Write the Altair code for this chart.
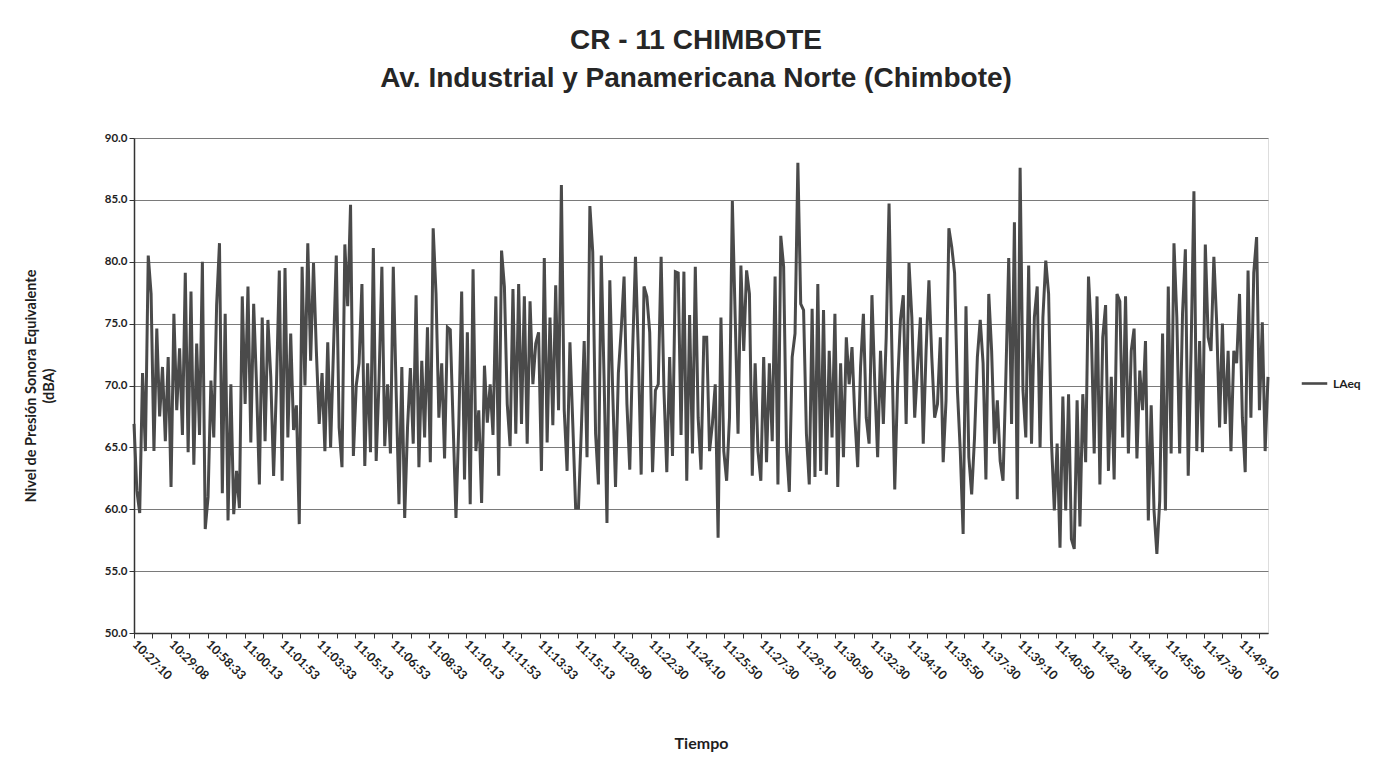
import json
import altair as alt
import pandas as pd

# ---------------- data (LAeq values, left to right) ----------------
SEG_1 = [66.9, 61.5, 59.7, 71.0, 64.7, 80.5, 77.4, 64.7, 74.6, 67.5, 71.5, 65.5, 72.3, 61.8, 75.8, 68.0,
         73.0, 66.0, 79.1, 64.6, 77.6, 63.6, 73.4, 66.0, 80.0, 58.4, 61.0, 70.4, 65.8, 76.5, 81.5, 61.3,
         75.8, 59.1, 70.1, 59.6, 63.1, 60.1, 77.2, 68.5, 78.0, 65.4, 76.6, 70.1, 62.0, 75.5, 65.5, 75.3]
SEG_2 = [70.7, 62.7, 70.0, 79.3, 62.3, 79.5, 65.8, 74.2, 66.4, 68.4, 58.8, 79.6, 70.0, 81.5, 72.0, 79.9,
         72.8, 66.9, 71.0, 64.7, 73.5, 65.0, 72.8, 80.5, 66.6, 63.4, 81.4, 76.4, 84.6, 64.3, 70.0, 71.8,
         78.2, 63.5, 71.8, 64.6, 81.1, 63.9, 70.4, 79.6, 65.1, 70.1, 64.5, 79.6, 69.6, 60.4, 71.5, 59.3,
         66.6, 71.4, 65.3]
SEG_3 = [77.3, 63.4, 72.0, 65.8, 74.7, 63.8, 82.7, 77.4, 67.4, 71.8, 64.1, 74.7, 74.5, 66.9, 59.3, 66.9,
         77.6, 62.4, 74.3, 60.4, 79.4, 64.7, 68.0, 60.5, 71.6, 67.0, 70.1, 66.0, 77.2, 62.7, 80.9, 78.0,
         68.5, 65.1, 77.8, 66.1, 78.2, 66.9, 77.2, 65.3, 76.8, 70.1, 73.4, 74.3, 63.1, 80.3, 65.4, 75.5,
         66.8, 78.1, 68.0]
SEG_4 = [86.2, 68.0, 63.1, 73.5, 66.9, 60.1, 60.1, 66.4, 73.6, 64.2, 84.5, 80.8, 66.1, 62.0, 80.5, 70.4,
         58.9, 78.5, 69.6, 61.8, 71.0, 74.5, 78.8, 68.5, 63.2, 72.8, 80.4, 72.8, 62.8, 78.0, 77.2, 74.3,
         63.0, 69.6, 70.1, 80.4, 69.6, 63.0, 72.3, 64.3, 79.2, 79.1, 66.0, 79.2, 62.3, 75.7, 64.5, 79.6,
         67.4, 63.2, 73.9]
SEG_5 = [73.9, 64.7, 66.9, 70.1, 57.7, 75.5, 64.7, 62.3, 67.4, 84.9, 75.5, 66.1, 79.7, 72.8, 79.3, 77.4,
         62.7, 71.8, 64.7, 62.3, 72.3, 63.8, 71.8, 65.5, 78.8, 62.0, 82.1, 79.6, 65.0, 61.4, 72.3, 74.2,
         88.0, 76.6, 76.1, 66.1, 62.0, 76.2, 62.6, 78.2, 63.1, 76.1, 62.8, 72.8, 65.8, 75.8, 61.8, 71.8,
         64.2, 73.9, 70.1]
SEG_6 = [73.1, 67.4, 63.4, 71.5, 75.8, 67.4, 65.3, 77.3, 70.1, 64.2, 72.8, 66.9, 73.9, 84.7, 72.8, 61.6,
         70.1, 75.3, 77.3, 66.9, 79.9, 75.5, 67.4, 71.5, 75.5, 65.3, 72.8, 78.5, 72.3, 67.4, 68.5, 73.9,
         63.8, 68.8, 82.7, 81.2, 79.1, 69.6, 64.7, 58.0, 76.4, 64.2, 61.2, 65.8, 72.3, 75.3, 71.8, 62.4,
         77.4, 72.8, 65.3]
SEG_7 = [68.8, 63.9, 62.3, 70.7, 80.3, 66.9, 83.2, 60.8, 87.6, 69.6, 65.8, 79.7, 65.3, 75.5, 78.0, 65.0,
         75.5, 80.1, 77.4, 65.5, 59.9, 65.3, 56.9, 69.1, 59.9, 69.3, 57.6, 56.8, 68.8, 58.6, 69.3, 63.8,
         78.8, 74.3, 64.5, 77.2, 62.0, 73.9, 76.5, 63.1, 70.7, 62.4, 77.4, 76.8, 65.8, 77.2, 64.5, 72.8,
         74.6, 64.1, 71.2]
SEG_8 = [68.0, 73.6, 59.1, 68.4, 59.9, 56.4, 60.7, 74.2, 59.9, 78.0, 64.5, 81.5, 75.5, 64.5, 75.8, 81.0,
         62.7, 72.8, 85.7, 64.7, 73.6, 64.6, 81.4, 73.9, 72.8, 80.4, 75.0, 66.6, 75.0, 66.9, 72.8, 64.7,
         72.8, 71.8, 77.4, 67.4, 63.0, 79.3, 67.4, 79.1, 82.0, 68.0, 75.1, 64.7, 70.7]

TICK_LABELS = ["10:27:10", "10:29:08", "10:58:33", "11:00:13", "11:01:53", "11:03:33", "11:05:13",
               "11:06:53", "11:08:33", "11:10:13", "11:11:53", "11:13:33", "11:15:13", "11:20:50",
               "11:22:30", "11:24:10", "11:25:50", "11:27:30", "11:29:10", "11:30:50", "11:32:30",
               "11:34:10", "11:35:50", "11:37:30", "11:39:10", "11:40:50", "11:42:30", "11:44:10",
               "11:45:50", "11:47:30", "11:49:10"]

SERIES = "LAeq"
TITLE = ["CR - 11 CHIMBOTE", "Av. Industrial y Panamericana Norte (Chimbote)"]
Y_TITLE = ["Nivel de Presión Sonora Equivalente", "(dBA)"]
X_TITLE = "Tiempo"

values = SEG_1 + SEG_2 + SEG_3 + SEG_4 + SEG_5 + SEG_6 + SEG_7 + SEG_8
POINTS_PER_LABEL = 12.95  # readings between two labelled ticks
df = pd.DataFrame({
    "pos": [i / POINTS_PER_LABEL for i in range(len(values))],
    "LAeq": values,
    "serie": SERIES,
})
x_max = (len(values) - 1) / POINTS_PER_LABEL

label_expr = ("datum.value % 1 === 0 ? " + json.dumps(TICK_LABELS) +
              "[round(datum.value)] : ''")

AX_FONT = "Lato"
INK = "#1e1e1e"

chart = alt.Chart(df).mark_line(strokeWidth=3.0, interpolate="linear").encode(
    x=alt.X("pos:Q",
            scale=alt.Scale(domain=[0, x_max], nice=False, zero=False),
            axis=alt.Axis(values=[k * 0.5 for k in range(int(x_max * 2) + 1)],
                          labelExpr=label_expr, labelAngle=45, labelAlign="left",
                          labelBaseline="middle", labelFont=AX_FONT, labelFontWeight="bold",
                          labelFontSize=12.5, labelColor=INK, labelPadding=4,
                          tickSize=5, tickColor="#333", domainColor="#333", domainWidth=1.5,
                          grid=False, labelOverlap=False,
                          title=X_TITLE, titleFont=AX_FONT, titleFontSize=16,
                          titleFontWeight="bold", titleColor=INK, titlePadding=54)),
    y=alt.Y("LAeq:Q",
            scale=alt.Scale(domain=[50, 90], nice=False, zero=False),
            axis=alt.Axis(values=[50, 55, 60, 65, 70, 75, 80, 85, 90], format=".1f",
                          labelFont=AX_FONT, labelFontWeight="bold", labelFontSize=11.5,
                          labelColor=INK, tickSize=5, tickColor="#333",
                          domainColor="#333", domainWidth=1.5,
                          grid=True, gridColor="#7a7a7a", gridWidth=1.2,
                          title=Y_TITLE, titleFont=AX_FONT, titleFontSize=14.5,
                          titleFontWeight="bold", titleColor=INK, titlePadding=48,
                          titleLineHeight=18)),
    color=alt.Color("serie:N", scale=alt.Scale(range=["#4a4a4a"]),
                    legend=alt.Legend(title=None, orient="none", legendX=1166, legendY=231,
                                      symbolType="stroke", symbolSize=650,
                                      symbolStrokeWidth=2.6, labelFont=AX_FONT,
                                      labelFontWeight="bold", labelFontSize=12,
                                      labelColor=INK)),
).properties(
    width=1134,
    height=495,
    autosize=alt.AutoSizeParams(type="none"),
    padding={"left": 126, "top": 130, "right": 97, "bottom": 128},
    title=alt.TitleParams(text=TITLE, font="Liberation Sans Narrow, Liberation Sans, Arial",
                          fontSize=28, fontWeight="bold", color="#262626", anchor="middle",
                          frame="group", offset=39, lineHeight=38, dx=-5),
).configure_view(stroke="#444", strokeWidth=1.2).configure(background="white")

chart.save("out.html", embed_options={"renderer": "svg", "actions": False})
